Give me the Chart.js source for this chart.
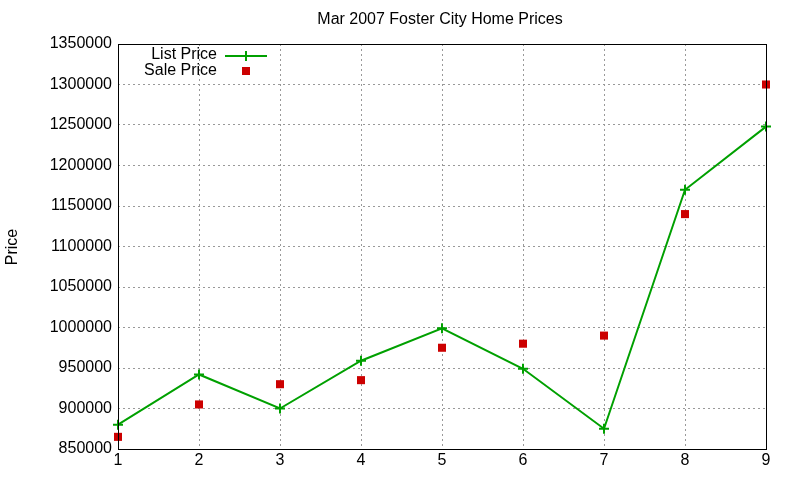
<!DOCTYPE html>
<html><head><meta charset="utf-8">
<script src="https://cdn.jsdelivr.net/npm/chart.js@4"></script>
<style>html,body{margin:0;padding:0;background:#fff}#w{width:800px;height:480px}</style>
</head><body><div id="w"><canvas id="c"></canvas></div>
<script>
const categories = [1,2,3,4,5,6,7,8,9];
const listPrice = [880000,942000,900000,959000,999000,949000,875000,1170000,1248000];
const salePrice = [865000,905000,930000,935000,975000,980000,990000,1140000,1300000];
const chartTitle = 'Mar 2007 Foster City Home Prices';
const yTitle = 'Price';

const F = 'Liberation Sans, Arial, sans-serif';
const deco = {
  id:'deco',
  afterDraw(ch){
    const c=ch.ctx, a=ch.chartArea;
    c.save();
    c.strokeStyle='#000'; c.lineWidth=1;
    c.strokeRect(a.left+0.5,a.top+0.5,a.right-a.left,a.bottom-a.top);
    c.fillStyle='#000'; c.font='16px '+F; c.textAlign='center'; c.textBaseline='middle';
    c.fillText(chartTitle,440,20);
    c.translate(13,247); c.rotate(-Math.PI/2); c.fillText(yTitle,0,0);
    c.restore();
    c.save();
    c.font='16px '+F; c.fillStyle='#000'; c.textAlign='right'; c.textBaseline='middle';
    c.fillText('List Price',217,55); c.fillText('Sale Price',217,71);
    c.strokeStyle='#00a000'; c.lineWidth=2;
    c.beginPath(); c.moveTo(225,56); c.lineTo(267,56); c.stroke();
    c.beginPath(); c.moveTo(246,51); c.lineTo(246,61); c.moveTo(241,56); c.lineTo(251,56); c.stroke();
    c.fillStyle='#cc0000'; c.fillRect(242,67,8,8);
    c.restore();
  }
};
new Chart(document.getElementById('c'),{
  type:'line',
  data:{datasets:[
    {label:'List Price',data:categories.map((x,i)=>({x,y:listPrice[i]})),borderColor:'#00a000',backgroundColor:'#00a000',borderWidth:2,pointStyle:'cross',pointRadius:5,pointBorderWidth:2,tension:0,clip:false},
    {label:'Sale Price',data:categories.map((x,i)=>({x,y:salePrice[i]})),showLine:false,borderColor:'#cc0000',backgroundColor:'#cc0000',pointStyle:'rect',pointRadius:5.7,pointBorderWidth:0,clip:false}
  ]},
  plugins:[deco],
  options:{
    responsive:true,maintainAspectRatio:false,animation:false,
    layout:{padding:{top:44,right:34,left:0,bottom:0}},
    plugins:{legend:{display:false},title:{display:false},tooltip:{enabled:false}},
    scales:{
      x:{type:'linear',min:1,max:9,ticks:{stepSize:1,color:'#000',font:{family:F,size:16},padding:2},
         grid:{color:'#999',drawTicks:false},border:{display:false,dash:[2,3]},
         afterFit(s){s.height=31;}},
      y:{min:850000,max:1350000,ticks:{stepSize:50000,color:'#000',font:{family:F,size:16},padding:6,callback:v=>String(v)},
         grid:{color:'#999',drawTicks:false},border:{display:false,dash:[2,3]},
         afterFit(s){s.width=118;}}
    }
  }
});
</script></body></html>
